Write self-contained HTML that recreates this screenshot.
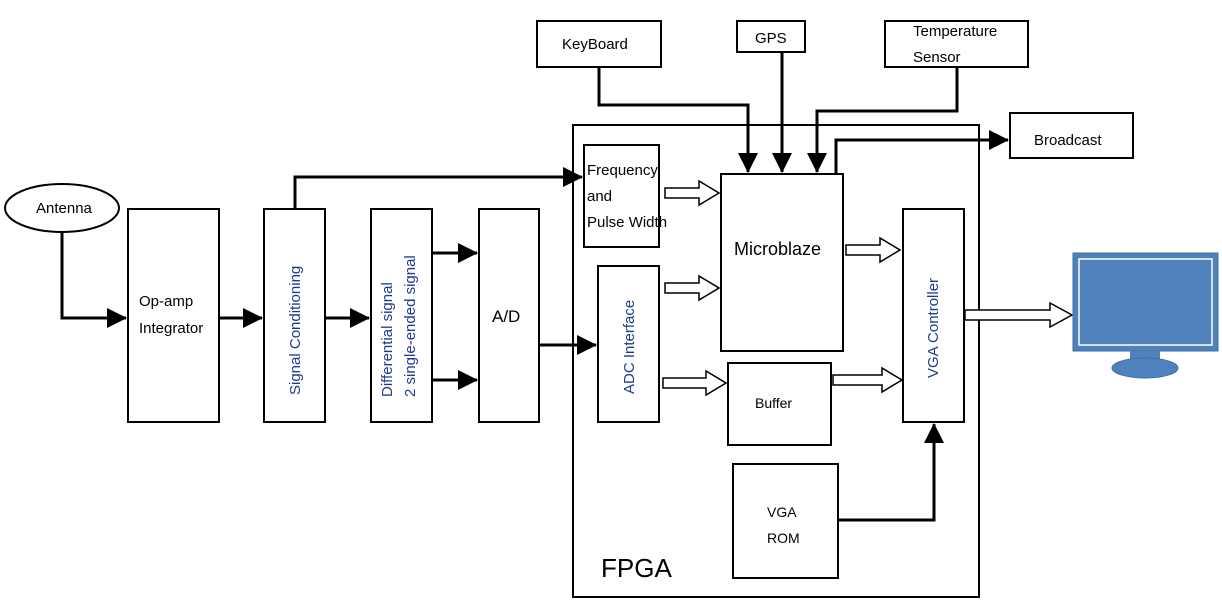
<!DOCTYPE html>
<html><head><style>html,body{margin:0;padding:0;background:#fff}svg{display:block}</style></head><body>
<svg width="1222" height="603" viewBox="0 0 1222 603" xmlns="http://www.w3.org/2000/svg" font-family="Liberation Sans, sans-serif">
<defs>
<marker id="a" markerWidth="10" markerHeight="10" refX="9" refY="5" orient="auto" markerUnits="userSpaceOnUse" viewBox="0 0 10 10"><path d="M0,0 L10,5 L0,10z" fill="#000"/></marker>
<marker id="b" viewBox="0 0 20 20" refX="19" refY="10" markerWidth="20" markerHeight="20" orient="auto" markerUnits="userSpaceOnUse"><path d="M0,0 L20,10 L0,20z" fill="#000"/></marker>
</defs>
<g fill="none" stroke="#000" stroke-width="2">
<rect x="573" y="125" width="406" height="472"/>
<ellipse cx="62" cy="208" rx="57" ry="24" fill="#fff"/>
<rect x="128" y="209" width="91" height="213"/>
<rect x="264" y="209" width="61" height="213"/>
<rect x="371" y="209" width="61" height="213"/>
<rect x="479" y="209" width="60" height="213"/>
<rect x="584" y="145" width="75" height="102"/>
<rect x="598" y="266" width="61" height="156"/>
<rect x="721" y="174" width="122" height="177"/>
<rect x="903" y="209" width="61" height="213"/>
<rect x="728" y="363" width="103" height="82"/>
<rect x="733" y="464" width="105" height="114"/>
<rect x="537" y="21" width="124" height="46"/>
<rect x="737" y="21" width="68" height="31"/>
<rect x="885" y="21" width="143" height="46"/>
<rect x="1010" y="113" width="123" height="45"/>
</g>
<g fill="none" stroke="#000" stroke-width="3">
<path d="M62,232 V318 H126" marker-end="url(#b)"/>
<path d="M219,318 H262" marker-end="url(#b)"/>
<path d="M325,318 H369" marker-end="url(#b)"/>
<path d="M432,253 H477" marker-end="url(#b)"/>
<path d="M432,380 H477" marker-end="url(#b)"/>
<path d="M539,345 H596" marker-end="url(#b)"/>
<path d="M295,209 V177 H582" marker-end="url(#b)"/>
<path d="M599,67 V105 H748 V172" marker-end="url(#b)"/>
<path d="M782,52 V172" marker-end="url(#b)"/>
<path d="M957,67 V111 H817 V172" marker-end="url(#b)"/>
<path d="M836,174 V140 H1008" marker-end="url(#b)"/>
<path d="M838,520 H934 V424" marker-end="url(#b)"/>
</g>
<g fill="#fff" stroke="#000" stroke-width="1.5">
<path d="M665,188 h34 v-7 l20,12 l-20,12 v-7 h-34z"/>
<path d="M665,283 h34 v-7 l20,12 l-20,12 v-7 h-34z"/>
<path d="M846,245 h34 v-7 l20,12 l-20,12 v-7 h-34z"/>
<path d="M663,378 h43 v-7 l20,12 l-20,12 v-7 h-43z"/>
<path d="M833,375 h49 v-7 l20,12 l-20,12 v-7 h-49z"/>
<path d="M965,310 h85 v-7 l22,12 l-22,12 v-7 h-85z"/>
</g>
<rect x="1073" y="253" width="145" height="98" fill="#4f81bd" stroke="#41719c" stroke-width="1"/>
<rect x="1079" y="259" width="133" height="86" fill="none" stroke="#fff" stroke-width="1.5"/>
<rect x="1130" y="351" width="30" height="14" fill="#4f81bd"/>
<ellipse cx="1145" cy="368" rx="33" ry="10" fill="#4f81bd" stroke="#41719c"/>
<g font-size="15" fill="#000">
<text x="36" y="213">Antenna</text>
<text x="139" y="306">Op-amp</text>
<text x="139" y="333">Integrator</text>
<text x="492" y="322" font-size="17">A/D</text>
<text x="587" y="175">Frequency</text>
<text x="587" y="201">and</text>
<text x="587" y="227">Pulse Width</text>
<text x="734" y="255" font-size="18">Microblaze</text>
<text x="755" y="408" font-size="14">Buffer</text>
<text x="767" y="517" font-size="14">VGA</text>
<text x="767" y="543" font-size="14">ROM</text>
<text x="562" y="49">KeyBoard</text>
<text x="755" y="43">GPS</text>
<text x="913" y="36">Temperature</text>
<text x="913" y="62">Sensor</text>
<text x="1034" y="145">Broadcast</text>
<text x="601" y="577" font-size="26">FPGA</text>
</g>
<g font-size="15" fill="#1f3a93">
<text transform="translate(300,395) rotate(-90)">Signal Conditioning</text>
<text transform="translate(392,397) rotate(-90)">Differential signal</text>
<text transform="translate(415,397) rotate(-90)">2 single-ended signal</text>
<text transform="translate(634,394) rotate(-90)">ADC Interface</text>
<text transform="translate(938,378) rotate(-90)">VGA Controller</text>
</g>
</svg>
</body></html>
